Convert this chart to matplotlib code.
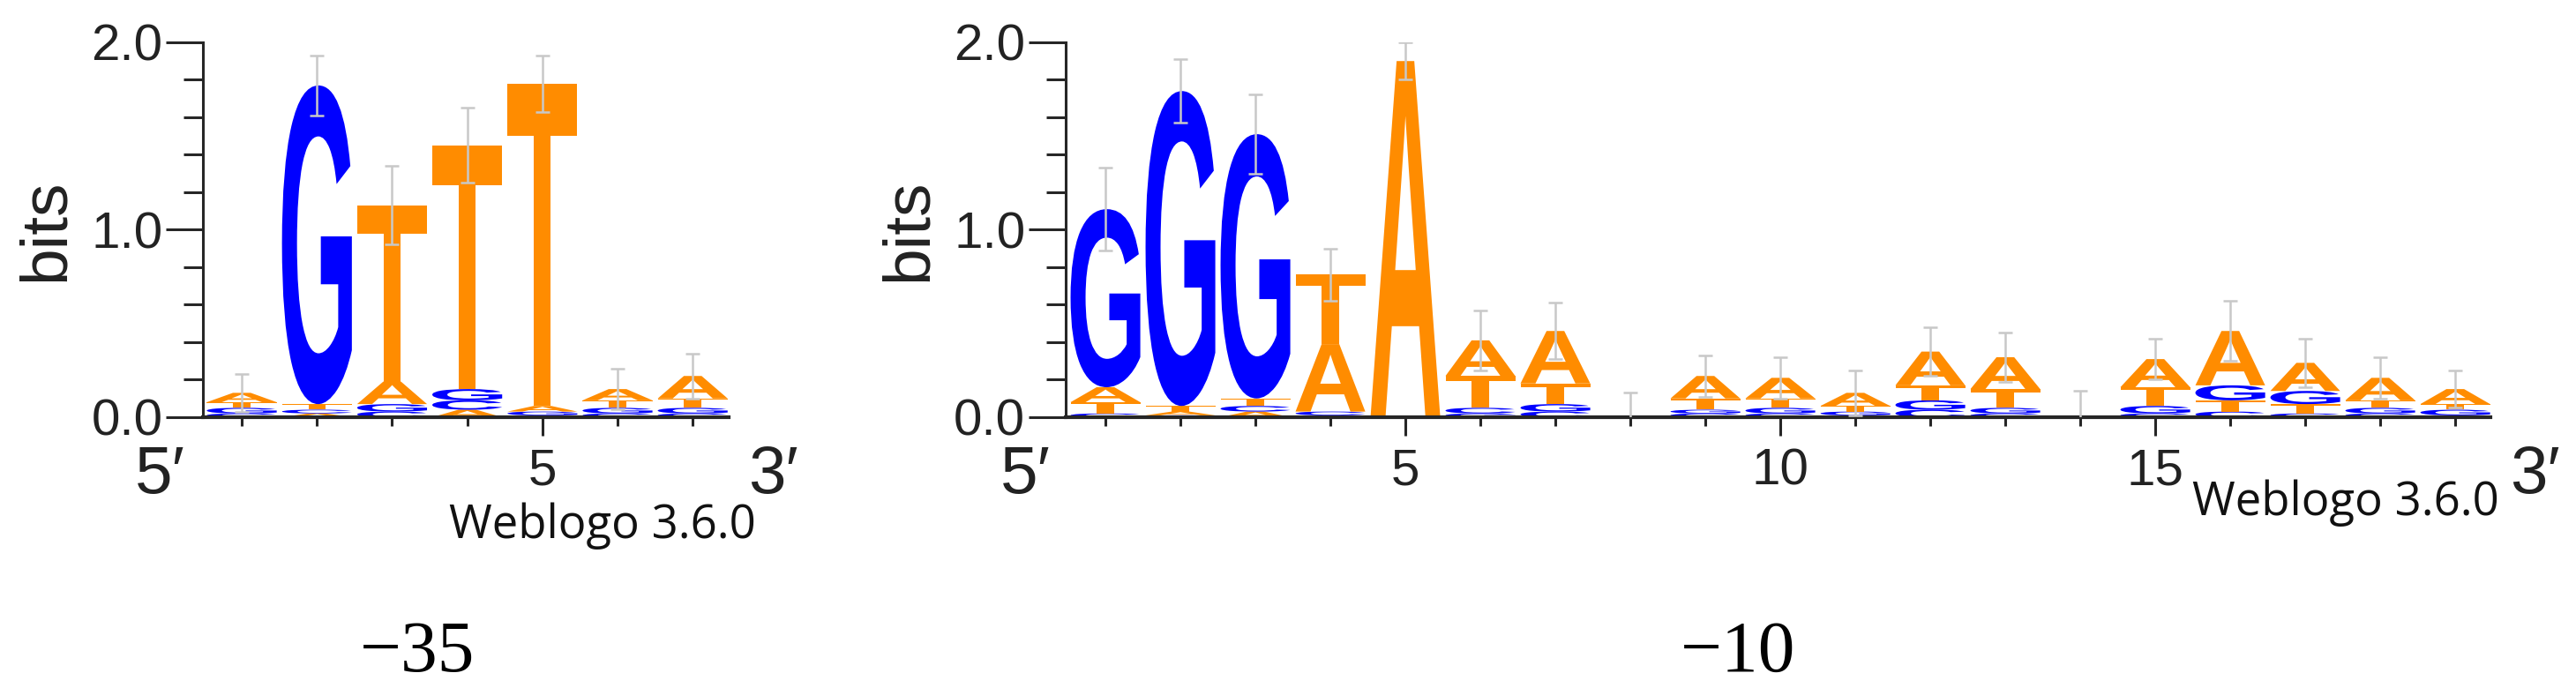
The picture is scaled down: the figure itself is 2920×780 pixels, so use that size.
#!/usr/bin/env python3
import numpy as np
import matplotlib
matplotlib.use("Agg")
import matplotlib.pyplot as plt
from matplotlib.textpath import TextPath
from matplotlib.font_manager import FontProperties
from matplotlib.patches import PathPatch
from matplotlib.transforms import Affine2D
from matplotlib.ticker import MultipleLocator

# =============================================================================
# -35 box logo, positions 1..7 (bits)

m35_A   = [0.05, 0.02, 0.12, 0.04, 0.03, 0.06, 0.12]
m35_C   = [0.02, 0.02, 0.03, 0.05, 0.01, 0.02, 0.02]
m35_G   = [0.03, 1.70, 0.04, 0.06, 0.02, 0.03, 0.03]
m35_T   = [0.03, 0.03, 0.94, 1.30, 1.72, 0.04, 0.05]
m35_err = [0.10, 0.16, 0.21, 0.20, 0.15, 0.11, 0.12]

# -10 box logo, positions 1..19 (bits)
m10_A   = [0.08, 0.02, 0.03, 0.36, 1.90, 0.19, 0.28, 0.00, 0.12, 0.11,
           0.07, 0.18, 0.17, 0.00, 0.15, 0.29, 0.15, 0.12, 0.08]
m10_C   = [0.02, 0.01, 0.03, 0.02, 0.00, 0.03, 0.03, 0.00, 0.02, 0.02,
           0.01, 0.04, 0.02, 0.00, 0.02, 0.03, 0.02, 0.02, 0.01]
m10_G   = [0.95, 1.68, 1.41, 0.01, 0.00, 0.02, 0.04, 0.00, 0.02, 0.03,
           0.02, 0.05, 0.03, 0.00, 0.04, 0.08, 0.07, 0.03, 0.03]
m10_T   = [0.06, 0.03, 0.04, 0.37, 0.00, 0.17, 0.11, 0.00, 0.06, 0.05,
           0.03, 0.08, 0.10, 0.00, 0.10, 0.06, 0.05, 0.04, 0.03]
m10_err = [0.22, 0.17, 0.21, 0.14, 0.10, 0.16, 0.15, 0.13, 0.11, 0.11,
           0.12, 0.13, 0.13, 0.14, 0.11, 0.16, 0.13, 0.11, 0.10]

box_labels = ["\u221235", "\u221210"]

# =============================================================================

LETTER_FONT = FontProperties(family="Liberation Sans", weight="bold")
COLORS      = {"A": "#ff8c00", "T": "#ff8c00", "G": "#0000ff", "C": "#0000ff"}
AXIS_COL    = "#262626"
SANS        = ["Liberation Sans", "DejaVu Sans"]


def draw_letter(ax, letter, x, y0, h, width=0.93):
    path = TextPath((0, 0), letter, size=1, prop=LETTER_FONT)
    ext  = path.get_extents()
    tr   = (Affine2D().translate(-ext.x0, -ext.y0)
            .scale(width / ext.width, h / ext.height)
            .translate(x - width / 2, y0))
    ax.add_patch(PathPatch(tr.transform_path(path), fc=COLORS[letter],
                           ec="none", lw=0, zorder=2))


def draw_logo(ax, heights, err):
    n    = len(err)
    pos  = np.arange(1, n + 1)
    tops = np.zeros(n)
    for i in range(n):
        stack = sorted(heights.items(), key=lambda kv: kv[1][i])
        y = 0.0
        for letter, vals in stack:
            if vals[i] > 0:
                draw_letter(ax, letter, pos[i], y, vals[i])
            y += vals[i]
        tops[i] = y
    ax.errorbar(pos, tops, yerr=err, fmt="none", ecolor="#c8c8c8",
                elinewidth=1.8, capsize=6, capthick=1.8, zorder=5)


def style_axes(ax, n, xlim, tag_dx, weblogo_dx, weblogo_dy):
    ax.set_xlim(*xlim)
    ax.set_ylim(0, 2.0)
    for s in ("top", "right"):
        ax.spines[s].set_visible(False)
    ax.spines["left"].set_linewidth(2.2)
    ax.spines["bottom"].set_linewidth(3.0)
    ax.spines["left"].set_color(AXIS_COL)
    ax.spines["bottom"].set_color(AXIS_COL)

    ax.set_yticks([0, 1, 2])
    ax.set_yticklabels(["0.0", "1.0", "2.0"], family=SANS)
    ax.yaxis.set_minor_locator(MultipleLocator(0.2))
    ax.tick_params(axis="y", which="major", length=30, width=2.2, labelsize=42,
                   pad=3, color=AXIS_COL, labelcolor="#222222")
    ax.tick_params(axis="y", which="minor", length=16, width=2.2, color=AXIS_COL)

    ax.set_xticks([t for t in (5, 10, 15) if t <= n])
    ax.set_xticklabels([str(t) for t in (5, 10, 15) if t <= n], family=SANS)
    ax.set_xticks(np.arange(1, n + 1), minor=True)
    ax.tick_params(axis="x", which="major", length=15, width=2.2, labelsize=42,
                   pad=10, color=AXIS_COL, labelcolor="#222222")
    ax.tick_params(axis="x", which="minor", length=7, width=2.2, color=AXIS_COL)

    ax.annotate("bits", xy=(0, 0.5), xycoords="axes fraction", xytext=(-128, 0),
                textcoords="offset points", rotation=90, ha="center", va="center",
                fontsize=54, family=SANS, color="#222222")
    ax.annotate("5\u2032", xy=(0, 0), xycoords="axes fraction", xytext=(-tag_dx, -48),
                textcoords="offset points", ha="center", va="center",
                fontsize=55, family=SANS, color="#222222")
    ax.annotate("3\u2032", xy=(1, 0), xycoords="axes fraction", xytext=(36, -48),
                textcoords="offset points", ha="center", va="center",
                fontsize=55, family=SANS, color="#222222")
    ax.annotate("Weblogo 3.6.0", xy=(1, 0), xycoords="axes fraction",
                xytext=(weblogo_dx, weblogo_dy), textcoords="offset points",
                ha="right", va="center", fontsize=38,
                family=["Open Sans", "DejaVu Sans"], color="#111111")

# =============================================================================

if __name__ == "__main__":
    fig = plt.figure(figsize=(29.2, 7.8), dpi=100)

    ax1 = fig.add_axes([0.0788, 0.3936, 0.2041, 0.5449])
    draw_logo(ax1, {"A": m35_A, "C": m35_C, "G": m35_G, "T": m35_T}, m35_err)
    style_axes(ax1, len(m35_err), (0.484, 7.48), 35, 22, -89)

    ax2 = fig.add_axes([0.4137, 0.3936, 0.5531, 0.5449])
    draw_logo(ax2, {"A": m10_A, "C": m10_C, "G": m10_G, "T": m10_T}, m10_err)
    style_axes(ax2, len(m10_err), (0.47, 19.47), 33, 7, -70)

    fig.text(0.162, 0.050, box_labels[0], ha="center", va="center",
             fontsize=60, family=["Liberation Serif", "DejaVu Serif"])
    fig.text(0.6747, 0.050, box_labels[1], ha="center", va="center",
             fontsize=60, family=["Liberation Serif", "DejaVu Serif"])

    fig.savefig("out.png", dpi=100, facecolor="white")
